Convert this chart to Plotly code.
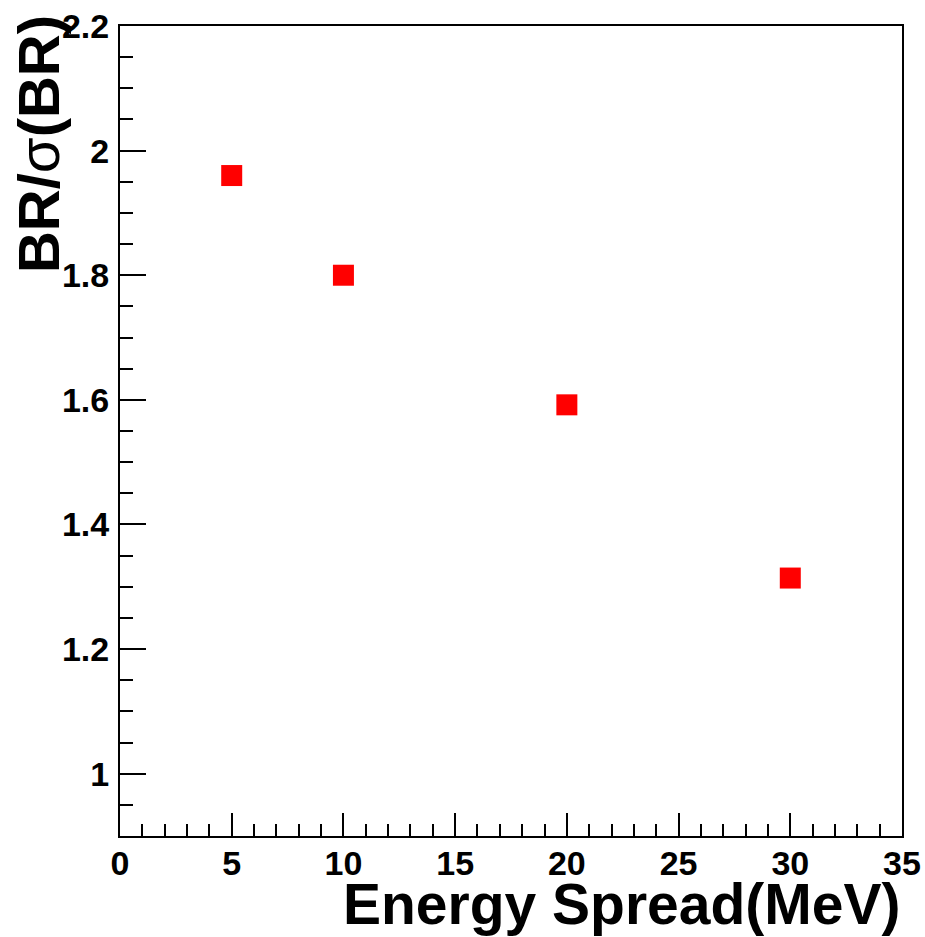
import plotly.graph_objects as go

# Data
energy_spread = [5, 10, 20, 30]          # MeV
br_significance = [1.96, 1.80, 1.592, 1.314]

x_title = "<b>Energy Spread(MeV)</b>"
y_title = "<b>BR/</b>σ<b>(BR)</b>"

FONT = "Liberation Sans, Arial, Helvetica, sans-serif"

fig = go.Figure()
fig.add_trace(go.Scatter(
    x=energy_spread, y=br_significance, mode="markers",
    marker=dict(symbol="square", size=21, color="#ff0000", line=dict(width=0)),
    showlegend=False,
))

W, H = 925, 937
L, R, T, B = 120, 22.5, 26, 100.5
pw = W - L - R
ph = H - T - B

axis_common = dict(
    showline=True, linecolor="black", linewidth=2, mirror=True,
    ticks="inside", tickcolor="black", tickwidth=2,
    showgrid=False, zeroline=False,
    tickfont=dict(family=FONT, size=34, color="black", weight="bold"),
)

fig.update_xaxes(
    range=[0, 35], tick0=0, dtick=5, ticklen=23, ticklabelstandoff=-4,
    minor=dict(dtick=1, ticks="inside", ticklen=12, tickcolor="black", tickwidth=2),
    **axis_common,
)
fig.update_yaxes(
    range=[0.9, 2.2], tick0=0, dtick=0.2, ticklen=26, ticklabelstandoff=2,
    minor=dict(dtick=0.05, ticks="inside", ticklen=13, tickcolor="black", tickwidth=2),
    **axis_common,
)

fig.add_annotation(
    text=x_title, xref="paper", yref="paper",
    x=1.0, y=(836.5 - 905) / ph, xanchor="right", yanchor="middle",
    showarrow=False, font=dict(family=FONT, size=57, color="black"),
)
fig.add_annotation(
    text=y_title, xref="paper", yref="paper", textangle=-90,
    x=(38 - L) / pw, y=1 + (T - 13) / ph, xanchor="center", yanchor="top",
    showarrow=False, font=dict(family=FONT, size=58, color="black"),
)

fig.update_layout(
    width=W, height=H,
    margin=dict(l=L, r=R, t=T, b=B, pad=0, autoexpand=False),
    paper_bgcolor="white", plot_bgcolor="white",
    font=dict(family=FONT, color="black"),
)

fig.write_html("out.html")
